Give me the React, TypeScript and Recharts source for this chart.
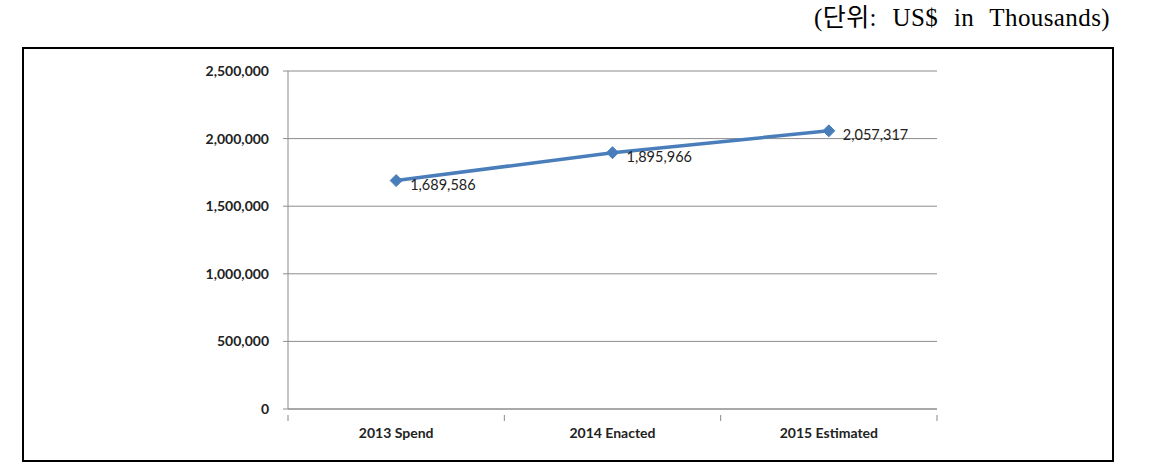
import { CartesianGrid, LabelList, Line, LineChart, XAxis, YAxis } from "recharts";

const categories = ["2013 Spend", "2014 Enacted", "2015 Estimated"];
const spending = [1689586, 1895966, 2057317];
const yTicks = [0, 500000, 1000000, 1500000, 2000000, 2500000];

const data = categories.map((name, i) => ({ name, value: spending[i] }));

const CHART_W = 1088;
const CHART_H = 411;
const MARGIN = { top: 22, right: 175, bottom: 21, left: 0 };
const Y_AXIS_W = 264;
const HALF_BAND = (CHART_W - MARGIN.right - MARGIN.left - Y_AXIS_W) / categories.length / 2;

const fmt = (v: number) => v.toLocaleString("en-US");

function Diamond(props: any) {
  const { cx, cy } = props;
  if (cx == null || cy == null) return null;
  const r = 6;
  return (
    <polygon
      points={`${cx},${cy - r} ${cx + r},${cy} ${cx},${cy + r} ${cx - r},${cy}`}
      fill="#4A7EBB"
      stroke="#4A7EBB"
    />
  );
}

function CategoryTick(props: any) {
  const { x, y, payload, index } = props;
  const last = index === categories.length - 1;
  return (
    <g>
      <line x1={x - HALF_BAND} y1={y - 2} x2={x - HALF_BAND} y2={y + 4} stroke="#888" />
      {last && <line x1={x + HALF_BAND} y1={y - 2} x2={x + HALF_BAND} y2={y + 4} stroke="#888" />}
      <text x={x} y={y + 21} textAnchor="middle" fontSize={14} fontWeight="bold" fill="#222">
        {payload.value}
      </text>
    </g>
  );
}

export default function App() {
  return (
    <div style={{ position: "absolute", left: 0, top: 0, width: 1171, height: 475, background: "#fff", fontFamily: "Lato, sans-serif" }}>
      <div
        style={{
          position: "absolute",
          right: 61,
          top: 3,
          fontFamily: "'Liberation Serif', 'Noto Sans CJK KR', serif",
          fontSize: 25,
          lineHeight: "30px",
          wordSpacing: 9,
          letterSpacing: 0.4,
          color: "#000",
          whiteSpace: "nowrap",
        }}
      >
        (단위: US$ in Thousands)
      </div>
      <div
        style={{
          position: "absolute",
          left: 22,
          top: 47,
          width: CHART_W,
          height: CHART_H,
          border: "2px solid #000",
        }}
      >
        <LineChart width={CHART_W} height={CHART_H} data={data} margin={MARGIN}>
          <CartesianGrid vertical={false} stroke="#8c8c8c" />
          <XAxis
            dataKey="name"
            scale="band"
            height={30}
            stroke="#8c8c8c"
            tickLine={false}
            tick={<CategoryTick />}
            interval={0}
          />
          <YAxis
            width={Y_AXIS_W}
            domain={[0, 2500000]}
            ticks={yTicks}
            stroke="#8c8c8c"
            tickSize={5}
            tickMargin={14}
            tickFormatter={fmt}
            tick={{ fontSize: 14, fontWeight: "bold", fill: "#222" }}
          />
          <Line
            dataKey="value"
            stroke="#4A7EBB"
            strokeWidth={3.5}
            dot={<Diamond />}
            isAnimationActive={false}
          >
            <LabelList
              dataKey="value"
              position="right"
              offset={14}
              formatter={(v: any) => fmt(Number(v))}
              style={{ fontSize: 14.5, fill: "#222" }}
              dy={4}
            />
          </Line>
        </LineChart>
      </div>
    </div>
  );
}
